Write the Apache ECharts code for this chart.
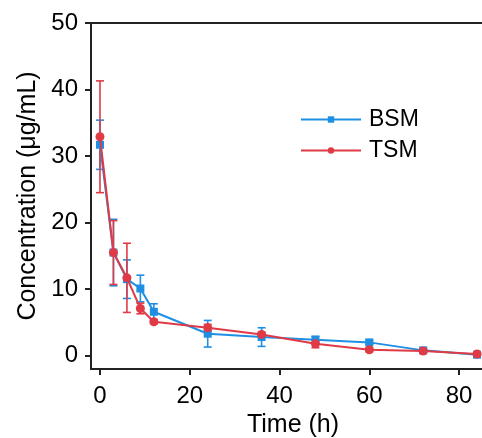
<!DOCTYPE html>
<html>
<head>
<meta charset="utf-8">
<script src="https://cdn.jsdelivr.net/npm/echarts@6/dist/echarts.min.js"></script>
<style>html,body{margin:0;padding:0;background:#fff;}#c{width:482px;height:438px;}</style>
</head>
<body>
<div id="c"></div>
<script>
const times = [0, 3, 6, 9, 12, 24, 36, 48, 60, 72, 84];
const bsmMean = [31.7, 15.5, 11.5, 10.1, 6.6, 3.3, 2.8, 2.4, 2.0, 0.8, 0.15];
const bsmErr  = [3.7, 5.0, 2.9, 2.0, 1.2, 2.0, 1.4, 0.5, 0.3, 0.3, 0.2];
const tsmMean = [32.9, 15.5, 11.7, 7.1, 5.1, 4.2, 3.2, 1.8, 0.9, 0.7, 0.25];
const tsmErr  = [8.4, 4.8, 5.2, 0.8, 0.3, 0.5, 0.3, 0.6, 0.3, 0.3, 0.2];
const xTicks = [0, 20, 40, 60, 80];
const yTicks = [0, 10, 20, 30, 40, 50];

const BLUE = '#1f8fe3';
const RED = '#df3a45';
const FONT = '"Liberation Sans", Arial, sans-serif';

function errData(mean, err) {
  return times.map((t, i) => [t, mean[i] - err[i], mean[i] + err[i]]);
}
function errSeries(name, mean, err, color) {
  return {
    type: 'custom',
    name: name + ' err',
    data: errData(mean, err),
    silent: true,
    z: 2,
    renderItem: function (params, api) {
      const x = api.value(0);
      const lo = api.coord([x, api.value(1)]);
      const hi = api.coord([x, api.value(2)]);
      const hw = 4;
      const style = { stroke: color, lineWidth: 1.6, fill: null };
      return {
        type: 'group',
        children: [
          { type: 'line', shape: { x1: lo[0], y1: lo[1], x2: hi[0], y2: hi[1] }, style: style },
          { type: 'line', shape: { x1: lo[0] - hw, y1: lo[1], x2: lo[0] + hw, y2: lo[1] }, style: style },
          { type: 'line', shape: { x1: hi[0] - hw, y1: hi[1], x2: hi[0] + hw, y2: hi[1] }, style: style }
        ]
      };
    }
  };
}

const chart = echarts.init(document.getElementById('c'));
chart.setOption({
  animation: false,
  backgroundColor: '#fff',
  textStyle: { fontFamily: FONT, color: '#000' },
  grid: { left: 91, top: 23, width: 404, height: 346, outerBoundsMode: 'none', containLabel: false },
  legend: {
    data: ['BSM', 'TSM'],
    orient: 'vertical',
    left: 295,
    top: 103,
    itemWidth: 60,
    itemHeight: 8,
    itemGap: 8,
    textStyle: { fontSize: 23, color: '#000', fontFamily: FONT, padding: [0, 0, 0, 3] }
  },
  xAxis: [{
    type: 'value',
    min: -2,
    max: 88,
    name: 'Time (h)',
    nameLocation: 'middle',
    nameGap: 44,
    nameTextStyle: { fontSize: 25, color: '#000', fontFamily: FONT },
    axisLine: { show: true, onZero: false, lineStyle: { color: '#222', width: 2 } },
    axisTick: { show: true, inside: false, length: 6, customValues: xTicks, lineStyle: { color: '#222', width: 2 } },
    axisLabel: { customValues: xTicks, fontSize: 24, color: '#000', margin: 15, fontFamily: FONT },
    splitLine: { show: false }
  }, {
    type: 'value',
    position: 'top',
    min: -2,
    max: 88,
    axisLine: { show: true, onZero: false, lineStyle: { color: '#222', width: 2 } },
    axisTick: { show: false },
    axisLabel: { show: false },
    splitLine: { show: false }
  }],
  yAxis: {
    type: 'value',
    min: -2,
    max: 50,
    name: 'Concentration (μg/mL)',
    nameLocation: 'middle',
    nameGap: 50,
    nameTextStyle: { fontSize: 25, color: '#000', fontFamily: FONT },
    axisLine: { show: true, onZero: false, lineStyle: { color: '#222', width: 2 } },
    axisTick: { show: true, length: 6, customValues: yTicks, lineStyle: { color: '#222', width: 2 } },
    axisLabel: { customValues: yTicks, fontSize: 24, color: '#000', margin: 13, fontFamily: FONT },
    splitLine: { show: false }
  },
  series: [
    errSeries('BSM', bsmMean, bsmErr, BLUE),
    {
      type: 'line',
      name: 'BSM',
      data: times.map((t, i) => [t, bsmMean[i]]),
      symbol: 'rect',
      symbolSize: 8,
      z: 3,
      lineStyle: { color: BLUE, width: 2 },
      itemStyle: { color: BLUE }
    },
    errSeries('TSM', tsmMean, tsmErr, RED),
    {
      type: 'line',
      name: 'TSM',
      data: times.map((t, i) => [t, tsmMean[i]]),
      symbol: 'circle',
      symbolSize: 9,
      z: 4,
      lineStyle: { color: RED, width: 2 },
      itemStyle: { color: RED }
    }
  ]
});
</script>
</body>
</html>
